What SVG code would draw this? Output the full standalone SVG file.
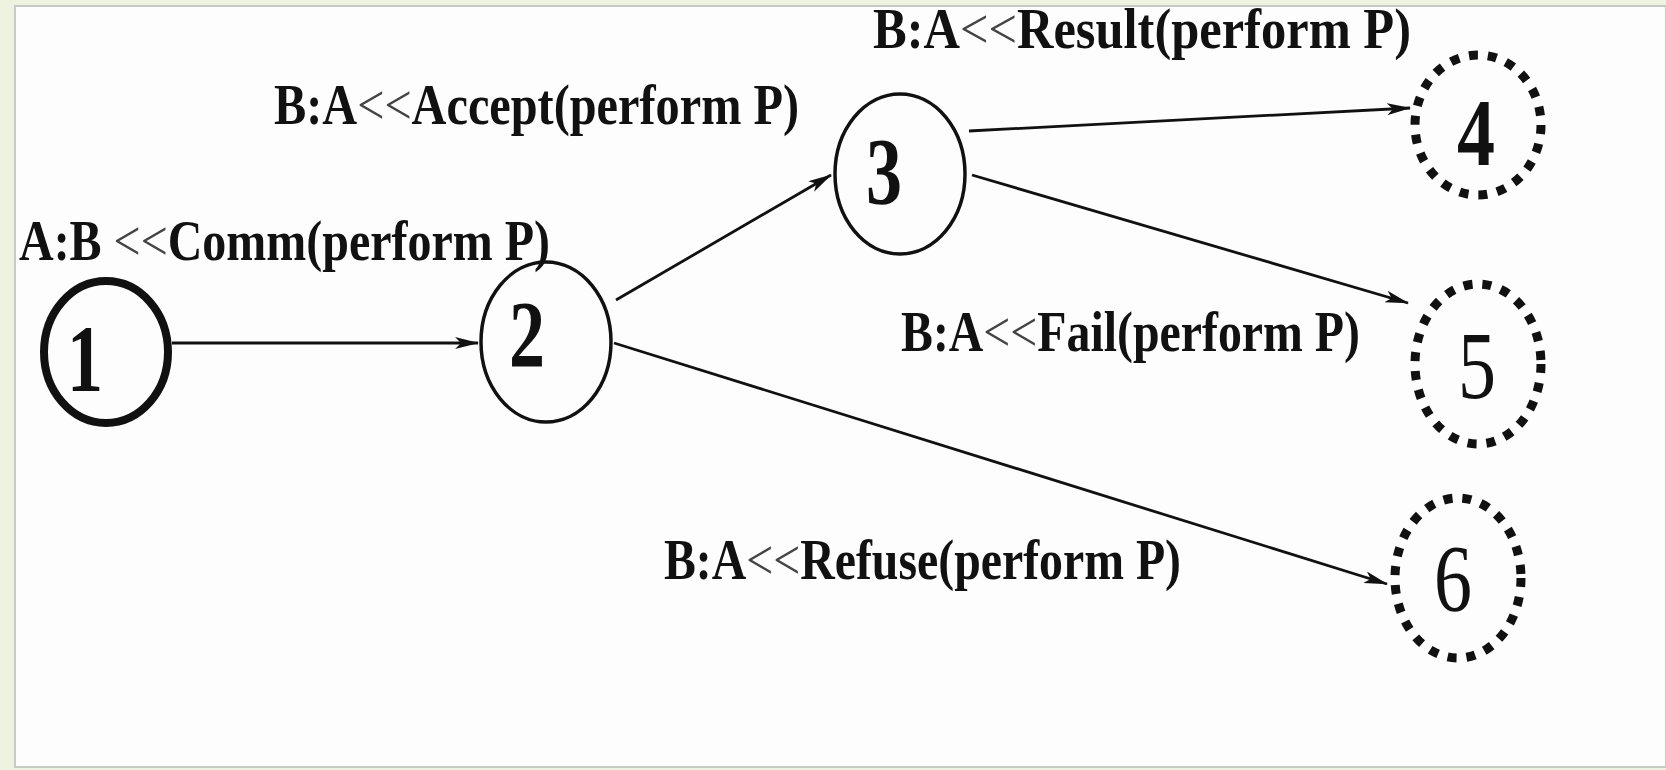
<svg xmlns="http://www.w3.org/2000/svg" width="1666" height="770" viewBox="0 0 1666 770">
<defs>
<style>
.lbl{font-family:"Liberation Serif","Times New Roman",serif;font-weight:bold;font-size:56px;fill:#111}
.lt{font-weight:normal;fill:#444}
.num{font-family:"Liberation Serif","Times New Roman",serif;font-weight:bold;font-size:96px;fill:#111;text-anchor:middle}
.numr{font-weight:normal}
.solid{fill:none;stroke:#111;stroke-width:3.5}
.thick{fill:none;stroke:#111;stroke-width:8}
.dot{fill:none;stroke:#111;stroke-width:9;stroke-dasharray:9 10}
.edge{fill:none;stroke:#111;stroke-width:2.8;marker-end:url(#ah)}
</style>
<marker id="ah" viewBox="0 0 24 12" refX="23" refY="6" markerWidth="24" markerHeight="12" markerUnits="userSpaceOnUse" orient="auto">
<path d="M0,0 L24,6 L0,12 L6,6 Z" fill="#111"/>
</marker>
</defs>
<rect x="0" y="0" width="1666" height="770" fill="#eef2e0"/>
<rect x="15" y="6" width="1651" height="761" fill="#fdfdfd" stroke="#c8cac6" stroke-width="2"/>
<g id="connectors">
<line class="edge" x1="172" y1="343" x2="478" y2="343"/>
<line class="edge" x1="616" y1="300" x2="831" y2="175"/>
<line class="edge" x1="969" y1="131" x2="1410" y2="108"/>
<line class="edge" x1="972" y1="175" x2="1408" y2="303"/>
<line class="edge" x1="614" y1="343" x2="1387" y2="584"/>
</g>
<g id="labels">
<text class="lbl" x="19" y="260" textLength="531" lengthAdjust="spacingAndGlyphs">A:B <tspan class="lt">&lt;&lt;</tspan>Comm(perform P)</text>
<text class="lbl" x="274" y="124" textLength="525" lengthAdjust="spacingAndGlyphs">B:A<tspan class="lt">&lt;&lt;</tspan>Accept(perform P)</text>
<text class="lbl" x="873" y="48" textLength="538" lengthAdjust="spacingAndGlyphs">B:A<tspan class="lt">&lt;&lt;</tspan>Result(perform P)</text>
<text class="lbl" x="901" y="351" textLength="459" lengthAdjust="spacingAndGlyphs">B:A<tspan class="lt">&lt;&lt;</tspan>Fail(perform P)</text>
<text class="lbl" x="664" y="579" textLength="517" lengthAdjust="spacingAndGlyphs">B:A<tspan class="lt">&lt;&lt;</tspan>Refuse(perform P)</text>
</g>
<g id="node1">
<ellipse class="thick" cx="106" cy="352" rx="62" ry="71"/>
<text class="num" x="85" y="391" textLength="36" lengthAdjust="spacingAndGlyphs">1</text>
</g>
<g id="node2">
<ellipse class="solid" cx="546" cy="342" rx="65" ry="80"/>
<text class="num" x="527" y="367" textLength="36" lengthAdjust="spacingAndGlyphs">2</text>
</g>
<g id="node3">
<ellipse class="solid" cx="900" cy="174" rx="65" ry="80"/>
<text class="num" x="884" y="204" textLength="36" lengthAdjust="spacingAndGlyphs">3</text>
</g>
<g id="node4">
<ellipse class="dot" cx="1478" cy="125" rx="63" ry="70"/>
<text class="num" x="1476" y="165" textLength="38" lengthAdjust="spacingAndGlyphs">4</text>
</g>
<g id="node5">
<ellipse class="dot" cx="1478" cy="364" rx="63" ry="80"/>
<text class="num numr" x="1477" y="398" textLength="38" lengthAdjust="spacingAndGlyphs">5</text>
</g>
<g id="node6">
<ellipse class="dot" cx="1458" cy="578" rx="63" ry="80"/>
<text class="num numr" x="1453" y="611" textLength="38" lengthAdjust="spacingAndGlyphs">6</text>
</g>
</svg>
